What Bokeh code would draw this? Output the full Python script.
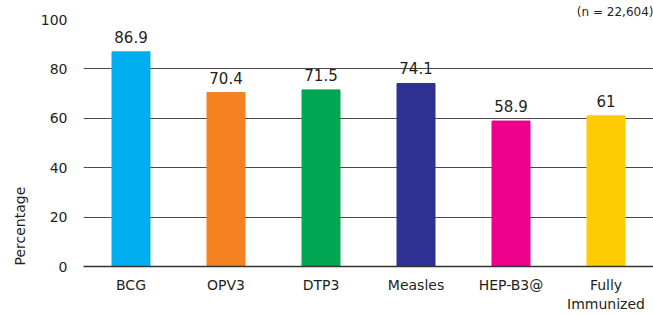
from bokeh.plotting import figure
from bokeh.models import ColumnDataSource, FixedTicker, Title, FactorRange, Range1d
from bokeh.embed import file_html
from bokeh.resources import INLINE

categories = ["BCG", "OPV3", "DTP3", "Measles", "HEP-B3@", "Fully\nImmunized"]
values = [86.9, 70.4, 71.5, 74.1, 58.9, 61]
value_labels = ["86.9", "70.4", "71.5", "74.1", "58.9", "61"]
colors = ["#00AEEF", "#F58220", "#00A651", "#2E3192", "#EC008C", "#FFCB05"]
y_ticks = [0, 20, 40, 60, 80, 100]

FONT = "DejaVu Sans"
TXT = "#231F20"

src = ColumnDataSource(dict(cat=categories, val=values, lab=value_labels, col=colors))

p = figure(width=653, height=315, x_range=FactorRange(*categories, range_padding=0),
           y_range=Range1d(0, 100), output_backend="svg", toolbar_location=None,
           min_border_left=80, min_border_right=0, min_border_top=19, min_border_bottom=49)
p.outline_line_color = None
p.background_fill_color = "white"

p.vbar(x="cat", top="val", width=0.4, color="col", source=src)
p.text(x="cat", y="val", text="lab", source=src, text_align="center", text_baseline="bottom",
       y_offset=-9, text_font_size="15px", text_color=TXT, text_font={"value": FONT})

p.xgrid.grid_line_color = None
p.ygrid.ticker = FixedTicker(ticks=y_ticks)
p.ygrid.grid_line_color = "#4a4a4a"
p.ygrid.grid_line_width = 1

p.yaxis.ticker = FixedTicker(ticks=y_ticks)
p.yaxis.axis_line_color = None
p.yaxis.major_tick_line_color = None
p.yaxis.minor_tick_line_color = None
p.yaxis.major_label_standoff = 10
p.yaxis.major_label_text_font = FONT
p.yaxis.major_label_text_font_size = "14px"
p.yaxis.major_label_text_color = TXT

p.xaxis.axis_line_color = "#333333"
p.xaxis.axis_line_width = 1.5
p.xaxis.major_tick_line_color = None
p.xaxis.minor_tick_line_color = None
p.xaxis.major_label_standoff = 4
p.xaxis.major_label_text_font = FONT
p.xaxis.major_label_text_font_size = "14px"
p.xaxis.major_label_text_color = TXT

p.add_layout(Title(text="Percentage", align="left", offset=1, standoff=19,
                   text_font=FONT, text_font_size="14px", text_font_style="normal",
                   text_color=TXT), "left")
p.add_layout(Title(text="(n = 22,604)", align="right", standoff=1,
                   text_font=FONT, text_font_size="12px", text_font_style="normal",
                   text_color=TXT), "above")

open("out.html", "w").write(file_html(p, INLINE))
